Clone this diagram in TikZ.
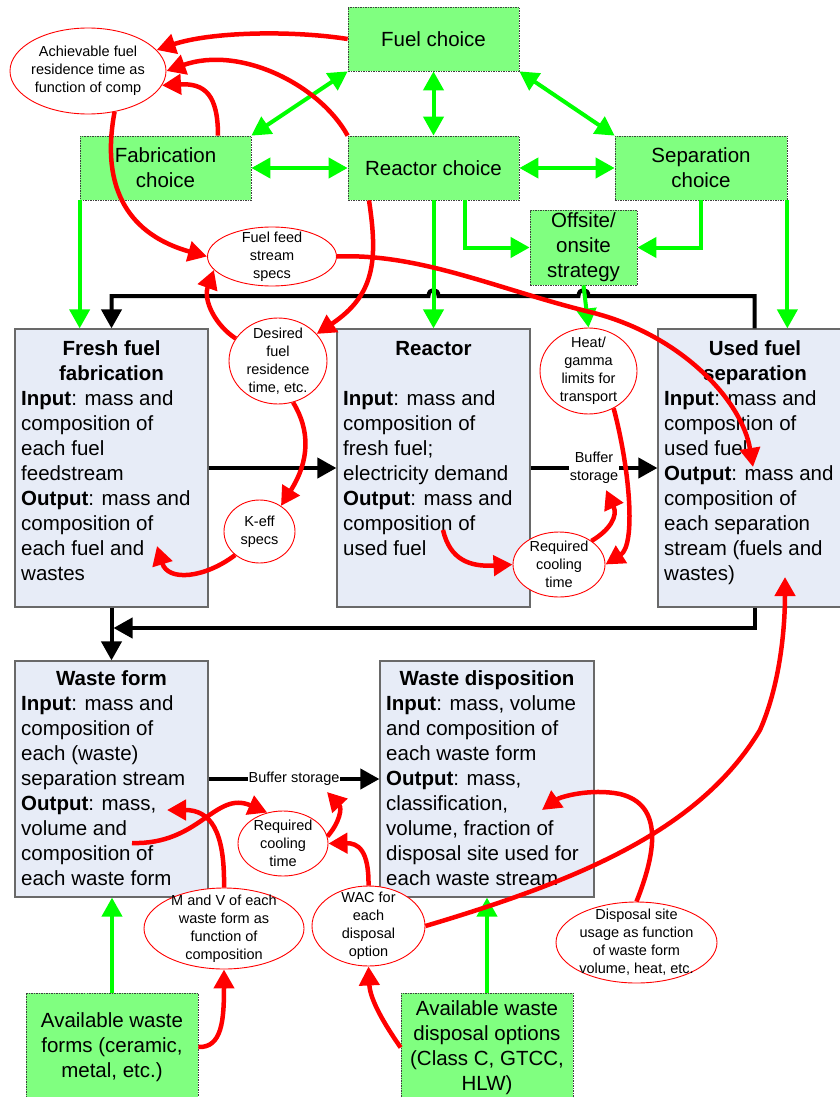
\documentclass[tikz,border=0pt]{standalone}
\usepackage{fontspec}
\setmainfont{Liberation Sans}
\usetikzlibrary{arrows.meta,shapes.geometric,calc}
\definecolor{boxblue}{RGB}{231,236,247}
\definecolor{choicegreen}{RGB}{128,255,128}
\definecolor{linkgreen}{RGB}{0,255,0}
\definecolor{linkred}{RGB}{255,0,0}
\definecolor{edgegray}{RGB}{105,105,105}

\begin{document}
\begin{tikzpicture}[x=1pt,y=-1pt,
  >={Triangle[length=19pt,width=20pt]},
  stagebox/.style={draw=edgegray,line width=1.2pt,fill=boxblue,inner sep=0pt},
  stagetitle/.style={anchor=north,align=center,inner sep=0pt,
    font=\fontsize{20.5}{25}\selectfont\bfseries},
  stagebody/.style={anchor=north west,align=left,inner sep=0pt,
    font=\fontsize{20.5}{25}\selectfont},
  choicebox/.style={draw=black!75,dash pattern=on 1.5pt off 1pt,line width=0.7pt,
    fill=choicegreen,align=center,inner sep=0pt,font=\fontsize{20.5}{25}\selectfont},
  note/.style={ellipse,draw=linkred,line width=0.9pt,fill=white,inner sep=0pt},
  notetext/.style={align=center,inner sep=0pt,font=\fontsize{14.5}{18}\selectfont},
  bufferlabel/.style={fill=white,align=center,inner sep=1pt,
    font=\fontsize{14.5}{18}\selectfont},
  kline/.style={draw=black,line width=4pt},
  gline/.style={draw=linkgreen,line width=4pt},
  rline/.style={draw=linkred,line width=4.5pt}]

\useasboundingbox (0,0) rectangle (840,1097);
\fill[white] (0,0) rectangle (840,1097);

% ---- process stages ----
\node[stagebox,minimum width=193pt,minimum height=278pt] (ff) at (111.5,468) {};
\node[stagebox,minimum width=193pt,minimum height=278pt] (rx) at (433.5,468) {};
\node[stagebox,minimum width=193pt,minimum height=278pt] (usep) at (754.5,468) {};
\node[stagebox,minimum width=193pt,minimum height=236pt] (wf) at (111.5,779) {};
\node[stagebox,minimum width=214pt,minimum height=236pt] (wd) at (487,779) {};

\node[stagetitle] (ffT) at (111.5,337.5) {\strut Fresh fuel\\fabrication};
\node[stagebody] (ffB) at (21,387.5) {\strut\textbf{Input}: mass and\\composition of\\each fuel\\feedstream\\\textbf{Output}: mass and\\composition of\\each fuel and\\wastes};

\node[stagetitle] (rxT) at (433.5,337.5) {\strut Reactor};
\node[stagebody] (rxB) at (343,387.5) {\strut\textbf{Input}: mass and\\composition of\\fresh fuel;\\electricity demand\\\textbf{Output}: mass and\\composition of\\used fuel};

\node[stagetitle] (usepT) at (755,337.5) {\strut Used fuel\\separation};
\node[stagebody] (usepB) at (664,387.5) {\strut\textbf{Input}: mass and\\composition of\\used fuel\\\textbf{Output}: mass and\\composition of\\each separation\\stream (fuels and\\wastes)};

\node[stagetitle] (wfT) at (111.5,667.5) {\strut Waste form};
\node[stagebody] (wfB) at (21,692.5) {\strut\textbf{Input}: mass and\\composition of\\each (waste)\\separation stream\\\textbf{Output}: mass,\\volume and\\composition of\\each waste form};

\node[stagetitle] (wdT) at (487,667.5) {\strut Waste disposition};
\node[stagebody] (wdB) at (386,692.5) {\strut\textbf{Input}: mass, volume\\and composition of\\each waste form\\\textbf{Output}: mass,\\classification,\\volume, fraction of\\disposal site used for\\each waste stream};

% ---- choices ----
\node[choicebox,minimum width=171pt,minimum height=64pt] (fuel) at (433.5,39) {Fuel choice};
\node[choicebox,minimum width=171pt,minimum height=64pt] (fch) at (165.5,168) {Fabrication\\choice};
\node[choicebox,minimum width=171pt,minimum height=64pt] (rch) at (433.5,168) {Reactor choice};
\node[choicebox,minimum width=172pt,minimum height=64pt] (sch) at (701,168) {Separation\\choice};
\node[choicebox,minimum width=107pt,minimum height=75pt] (off) at (583.5,247.5) {Offsite/\\onsite\\strategy};
\node[choicebox,minimum width=172pt,minimum height=108pt] (awf) at (112,1047) {Available waste\\forms (ceramic,\\metal, etc.)};
\node[choicebox,minimum width=172pt,minimum height=109pt] (ado) at (487,1047.5) {Available waste\\disposal options\\(Class C, GTCC,\\HLW)};

% ---- material flow ----
\coordinate (topbus) at (0,296);
\coordinate (botbus) at (0,628);
\coordinate (hopA) at (off.south |- topbus);
\coordinate (hopB) at (rch.south |- topbus);

\draw[kline,->] (ff.east) -- (rx.west);
\draw[kline,->] (rx.east) -- node[bufferlabel] (buf1) {Buffer\\storage} (usep.west);
\draw[kline,->] (wf.east) -- node[bufferlabel] (buf2) {Buffer storage} (wd.west);
\draw[kline,->] (usep.north) |- ($(hopA)+(5,0)$)
  .. controls ($(hopA)+(5,-8)$) and ($(hopA)+(-5,-8)$) .. ($(hopA)+(-5,0)$)
  -- ($(hopB)+(5,0)$)
  .. controls ($(hopB)+(5,-8)$) and ($(hopB)+(-5,-8)$) .. ($(hopB)+(-5,0)$)
  -- (ff.north |- topbus) -- (ff.north);
\draw[kline,->] (usep.south) |- ($(ff.south |- botbus)+(2,0)$);
\draw[kline,->] (ff.south) -- (wf.north);

% ---- decision links ----
\draw[gline,<->] (fuel.south west) -- (fch.north east);
\draw[gline,<->] (fuel.south) -- (rch.north);
\draw[gline,<->] (fuel.south east) -- (sch.north west);
\draw[gline,<->] (fch.east) -- (rch.west);
\draw[gline,<->] (rch.east) -- (sch.west);
\draw[gline,->] (fch.south west) -- (fch.south west |- ff.north);
\draw[gline,->] (rch.south) -- (rx.north);
\draw[gline,->] ($(rch.south)+(31.5,0)$) |- (off.west);
\draw[gline,->] (sch.south) |- (off.east);
\draw[gline,->] (sch.south east) -- (sch.south east |- usep.north);

% ---- constraint notes ----
\node[note,minimum width=156pt,minimum height=86pt] (ach) at (88,71) {};
\node[note,minimum width=129pt,minimum height=59pt] (ffs) at (272,256.5) {};
\node[note,minimum width=98pt,minimum height=86pt] (des) at (278,361) {};
\node[note,minimum width=71pt,minimum height=63pt] (keff) at (259.5,531.5) {};
\node[note,minimum width=97pt,minimum height=86pt] (heat) at (588.5,371) {};
\node[note,minimum width=92pt,minimum height=65pt] (rct) at (559,564.5) {};
\node[note,minimum width=90pt,minimum height=65pt] (rcb) at (283,843.5) {};
\node[note,minimum width=160pt,minimum height=81pt] (mv) at (224,928.5) {};
\node[note,minimum width=113pt,minimum height=80pt] (wac) at (368.5,926) {};
\node[note,minimum width=161pt,minimum height=81pt] (dsu) at (636.5,942.5) {};

\draw[gline,->] (off.south) -- (heat.north);
\draw[gline,->] (awf.north) -- (awf.north |- wf.south);
\draw[gline,->] (ado.north) -- (ado.north |- wd.south);

% ---- information links ----
\draw[rline,->] (fuel.west) .. controls (290,30) and (210,32) .. (ach.17);
\draw[rline,->] (rch.north west) .. controls (320,85) and (240,45) .. (ach.east);
\draw[rline,->] ($(fch.north)+(52.5,0)$) .. controls (218,95) and (205,83) .. (ach.349);
\draw[rline,->] (ach.303) .. controls (100,190) and (130,235) .. (ffs.west);
\draw[rline,->] (ffs.east) .. controls (420,253) and (500,290) .. (590,312)
  .. controls (680,334) and (742,400) .. ($(usep.center)+(-1.5,-1)$);
\draw[rline,->] ($(rch.south)+(-64.5,0)$) .. controls (378,260) and (375,295) .. (des.35);
\draw[rline,->] (des.152) .. controls (215,325) and (203,300) .. (ffs.193);
\draw[rline,->] (des.290) .. controls (310,430) and (310,460) .. (keff.50);
\draw[rline,->] (keff.224) .. controls (205,578) and (168,582) .. ($(ff.center)+(45.5,78)$);
\draw[rline,->] ($(rx.center)+(9.5,62)$) .. controls (450,560) and (470,567) .. (rct.west);
\draw[rline,->] (rct.36) .. controls (610,530) and (618,516) .. ($(buf1.center)+(12,22)$);
\draw[rline,->] (heat.304) .. controls (630,470) and (636,545) .. (rct.east);
\draw[rline,->] (wac.east) .. controls (580,880) and (700,830) .. (760,730)
  .. controls (782,680) and (785,620) .. ($(usep.center)+(30.5,109)$);
\draw[rline,->] (dsu.north) .. controls (655,855) and (665,805) .. (620,794)
  .. controls (590,788) and (560,797) .. ($(wd.center)+(55,31)$);
\draw[rline,->] ($(wf.center)+(20.5,64)$) .. controls (200,845) and (215,790) .. (rcb.117);
\draw[rline,->] (mv.north) .. controls (225,830) and (210,810) .. ($(wf.center)+(55.5,31)$);
\draw[rline,->] (rcb.9) .. controls (340,822) and (342,808) .. ($(buf2.center)+(33,13)$);
\draw[rline,->] (wac.north) .. controls (369,850) and (358,843) .. (rcb.east);
\draw[rline,->] (awf.east) .. controls (222,1048) and (224,1020) .. (mv.south);
\draw[rline,->] (ado.west) .. controls (385,1025) and (370,1000) .. (wac.south);

% ---- note texts ----
\node[notetext] (achT) at (ach) {Achievable fuel\\residence time as\\function of comp};
\node[notetext] (ffsT) at (ffs) {Fuel feed\\stream\\specs};
\node[notetext] (desT) at (des) {Desired\\fuel\\residence\\time, etc.};
\node[notetext] (keffT) at (keff) {K-eff\\specs};
\node[notetext] (heatT) at (heat) {Heat/\\gamma\\limits for\\transport};
\node[notetext] (rctT) at (rct) {Required\\cooling\\time};
\node[notetext] (rcbT) at (rcb) {Required\\cooling\\time};
\node[notetext] (mvT) at (mv) {M and V of each\\waste form as\\function of\\composition};
\node[notetext] (wacT) at (wac) {WAC for\\each\\disposal\\option};
\node[notetext] (dsuT) at (dsu) {Disposal site\\usage as function\\of waste form\\volume, heat, etc.};

\end{tikzpicture}
\end{document}
